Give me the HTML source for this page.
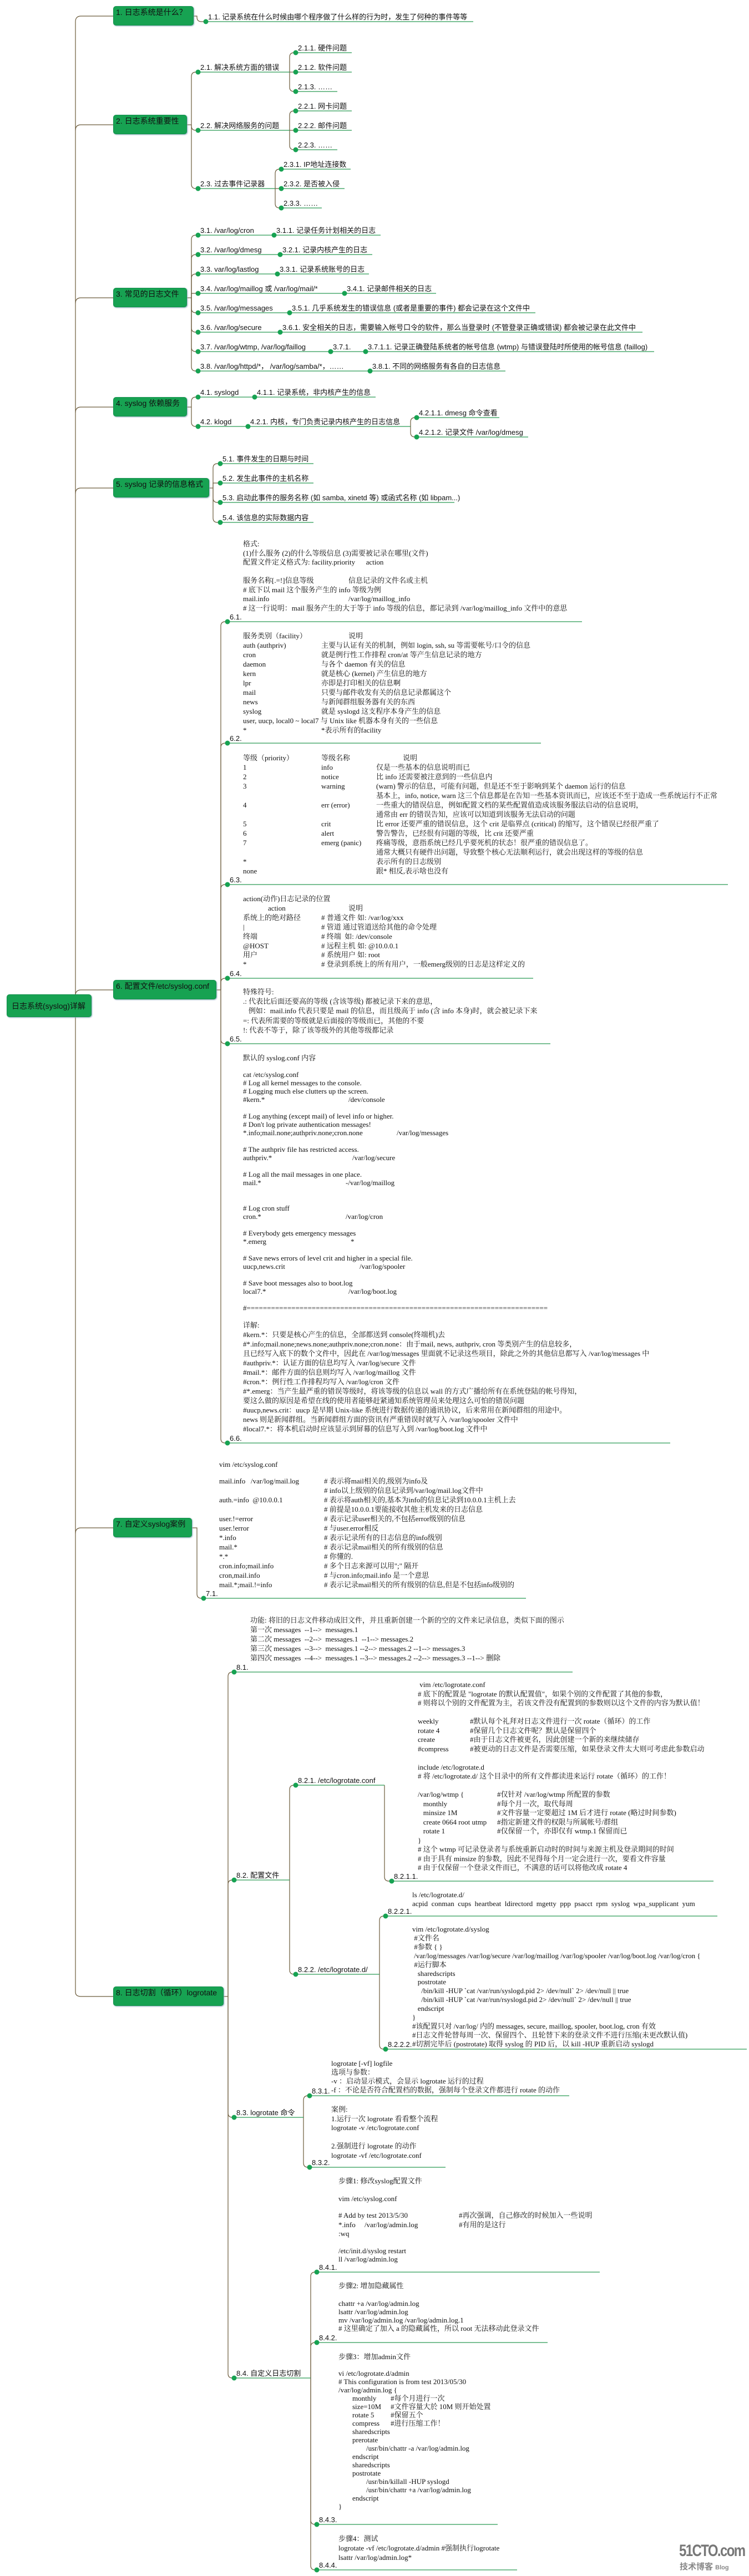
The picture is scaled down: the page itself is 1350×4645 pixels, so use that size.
<!DOCTYPE html>
<html><head><meta charset="utf-8">
<style>
body{margin:0;width:1350px;height:4645px;position:relative;background:#fff;overflow:hidden}
.n{position:absolute;background:#17a252;border-radius:5px;border:1px solid #13904a;height:35px;line-height:34px;font:14px "Liberation Sans","Noto Sans CJK SC",sans-serif;padding-left:4px;box-sizing:border-box;color:#111;box-shadow:1px 1px 2px #8ab}
.l{position:absolute;font:13px "Liberation Sans","Noto Sans CJK SC",sans-serif;white-space:pre;line-height:15px;color:#111}
.b{position:absolute;font:13px "Liberation Serif","Noto Serif CJK SC",serif;white-space:pre;color:#111}
.b i{display:inline-block;font-style:normal}
svg{position:absolute;left:0;top:0}
</style></head><body>
<svg width="1350" height="4645">
<g fill="none" stroke="#6b5a3a" stroke-width="1.2">
<path d="M136,3592V39Q136,29 146,29H205"/>
<path d="M136,3592Q136,3600 146,3600H205"/>
<path d="M136,235Q136,225 146,225H205"/>
<path d="M136,547Q136,537 146,537H205"/>
<path d="M136,744Q136,734 146,734H205"/>
<path d="M136,890Q136,880 146,880H205"/>
<path d="M136,1795Q136,1785 146,1785H205"/>
<path d="M136,2765Q136,2755 146,2755H205"/>
<path d="M349,29H355V31Q355,39 363,39H371"/>
<path d="M337,225H345"/>
<path d="M345,225V138Q345,130 353,130H357"/>
<path d="M345,225V227Q345,235 353,235H357"/>
<path d="M345,225V332Q345,340 353,340H357"/>
<path d="M522,130V103Q522,95 530,95H533"/><path d="M522,130H533"/><path d="M522,130V157Q522,165 530,165H533"/>
<path d="M522,235V208Q522,200 530,200H533"/><path d="M522,235H533"/><path d="M522,235V262Q522,270 530,270H533"/>
<path d="M496,340V313Q496,305 504,305H507"/><path d="M496,340H507"/><path d="M496,340V367Q496,375 504,375H507"/>
<path d="M337,537H345"/>
<path d="M345,537V432Q345,424 353,424H357"/>
<path d="M345,537V467Q345,459 353,459H357"/>
<path d="M345,537V502Q345,494 353,494H357"/>
<path d="M345,537V529H357"/>
<path d="M345,537V556Q345,564 353,564H357"/>
<path d="M345,537V591Q345,599 353,599H357"/>
<path d="M345,537V626Q345,634 353,634H357"/>
<path d="M345,537V661Q345,669 353,669H357"/>
<path d="M337,734H345"/>
<path d="M345,734V724Q345,716 353,716H357"/>
<path d="M345,734V761Q345,769 353,769H357"/>
<path d="M740,769V761Q740,753 748,753H751"/>
<path d="M740,769V780Q740,788 748,788H751"/>
<path d="M377,880H384"/>
<path d="M384,880V844Q384,836 392,836H397"/>
<path d="M384,880V871H397"/>
<path d="M384,880V898Q384,906 392,906H397"/>
<path d="M384,880V934Q384,942 392,942H397"/>
<path d="M390,1785H398"/>
<path d="M398,1785V1129Q398,1121 406,1121H410"/>
<path d="M398,1785V1348Q398,1340 406,1340H410"/>
<path d="M398,1785V1603Q398,1595 406,1595H410"/>
<path d="M398,1785V1772Q398,1764 406,1764H410"/>
<path d="M398,1785V1874Q398,1882 406,1882H410"/>
<path d="M398,1785V2594Q398,2602 406,2602H410"/>
<path d="M346,2755H355V2874Q355,2882 363,2882H367"/>
<path d="M403,3600H411"/>
<path d="M411,3600V3023Q411,3015 419,3015H422"/>
<path d="M411,3600V3398Q411,3390 419,3390H422"/>
<path d="M411,3600V3810Q411,3818 419,3818H422"/>
<path d="M411,3600V4280Q411,4288 419,4288H422"/>
<path d="M522,3390V3227Q522,3219 530,3219H533"/>
<path d="M522,3390V3552Q522,3560 530,3560H533"/>
<path d="M693,3219V3384Q693,3392 701,3392H706"/>
<path d="M684,3560V3463Q684,3455 692,3455H695"/>
<path d="M684,3560V3687Q684,3695 692,3695H695"/>
<path d="M547,3818V3787Q547,3779 555,3779H558"/>
<path d="M547,3818V3900Q547,3908 555,3908H558"/>
<path d="M560,4288V4105Q560,4097 568,4097H571"/>
<path d="M560,4288V4232Q560,4224 568,4224H571"/>
<path d="M560,4288V4544Q560,4552 568,4552H571"/>
<path d="M560,4288V4626Q560,4634 568,4634H571"/>
</g>
<g stroke="#2a9a55" stroke-width="1.2">
<path d="M371,39H853M357,130H522M357,235H522M357,340H496M533,95H634M533,130H634M533,165H608M533,200H634M533,235H634M533,270H608M507,305H632M507,340H621M507,375H580"/>
<path d="M357,424H686M357,459H671M357,494H665M357,529H786M357,564H965M357,599H1158M357,634H1179M357,669H911"/>
<path d="M357,716H677M357,769H740M751,753H900M751,788H952M397,836H565M397,871H565M397,906H819M397,942H565"/>
<path d="M410,1121H1049M410,1340H975M410,1595H1312M410,1764H961M410,1882H992M410,2602H1208M367,2882H948"/>
<path d="M422,3015H1032M422,3390H522M533,3219H693M706,3392H1286M533,3560H684M695,3455H1293M695,3695H1346M422,3818H547M558,3779H1026M558,3908H803M422,4288H560M571,4097H1081M571,4224H987M571,4552H897M571,4634H932"/>
</g>
<g fill="#17a252">
<circle cx="371" cy="39" r="4.5"/><circle cx="357" cy="130" r="4.5"/><circle cx="357" cy="235" r="4.5"/><circle cx="357" cy="340" r="4.5"/>
<circle cx="533" cy="95" r="4.5"/><circle cx="533" cy="130" r="4.5"/><circle cx="533" cy="165" r="4.5"/><circle cx="533" cy="200" r="4.5"/><circle cx="533" cy="235" r="4.5"/><circle cx="533" cy="270" r="4.5"/>
<circle cx="507" cy="305" r="4.5"/><circle cx="507" cy="340" r="4.5"/><circle cx="507" cy="375" r="4.5"/>
<circle cx="357" cy="424" r="4.5"/><circle cx="494" cy="424" r="4.5"/><circle cx="357" cy="459" r="4.5"/><circle cx="505" cy="459" r="4.5"/><circle cx="357" cy="494" r="4.5"/><circle cx="500" cy="494" r="4.5"/><circle cx="357" cy="529" r="4.5"/><circle cx="621" cy="529" r="4.5"/><circle cx="357" cy="564" r="4.5"/><circle cx="522" cy="564" r="4.5"/><circle cx="357" cy="599" r="4.5"/><circle cx="505" cy="599" r="4.5"/><circle cx="357" cy="634" r="4.5"/><circle cx="596" cy="634" r="4.5"/><circle cx="659" cy="634" r="4.5"/><circle cx="357" cy="669" r="4.5"/><circle cx="667" cy="669" r="4.5"/>
<circle cx="357" cy="716" r="4.5"/><circle cx="459" cy="716" r="4.5"/><circle cx="357" cy="769" r="4.5"/><circle cx="447" cy="769" r="4.5"/><circle cx="751" cy="753" r="4.5"/><circle cx="751" cy="788" r="4.5"/>
<circle cx="397" cy="836" r="4.5"/><circle cx="397" cy="871" r="4.5"/><circle cx="397" cy="906" r="4.5"/><circle cx="397" cy="942" r="4.5"/>
<circle cx="410" cy="1121" r="4.5"/><circle cx="410" cy="1340" r="4.5"/><circle cx="410" cy="1595" r="4.5"/><circle cx="410" cy="1764" r="4.5"/><circle cx="410" cy="1882" r="4.5"/><circle cx="410" cy="2602" r="4.5"/>
<circle cx="367" cy="2882" r="4.5"/>
<circle cx="422" cy="3015" r="4.5"/><circle cx="422" cy="3390" r="4.5"/><circle cx="533" cy="3219" r="4.5"/><circle cx="706" cy="3392" r="4.5"/><circle cx="533" cy="3560" r="4.5"/><circle cx="695" cy="3455" r="4.5"/><circle cx="695" cy="3695" r="4.5"/><circle cx="422" cy="3818" r="4.5"/><circle cx="558" cy="3779" r="4.5"/><circle cx="558" cy="3908" r="4.5"/><circle cx="422" cy="4288" r="4.5"/><circle cx="571" cy="4097" r="4.5"/><circle cx="571" cy="4224" r="4.5"/><circle cx="571" cy="4552" r="4.5"/><circle cx="571" cy="4634" r="4.5"/>
</g>
</svg>

<div class="n" style="left:12px;top:1793px;width:153px;height:41px;line-height:40px;padding-left:8px">日志系统(syslog)详解</div>
<div class="n" style="left:204px;top:11px;width:145px">1.  日志系统是什么？</div>
<div class="n" style="left:204px;top:207px;width:133px">2.  日志系统重要性</div>
<div class="n" style="left:204px;top:519px;width:133px">3.  常见的日志文件</div>
<div class="n" style="left:204px;top:716px;width:133px">4.  syslog 依赖服务</div>
<div class="n" style="left:204px;top:862px;width:173px">5.  syslog 记录的信息格式</div>
<div class="n" style="left:204px;top:1767px;width:186px">6.  配置文件/etc/syslog.conf</div>
<div class="n" style="left:204px;top:2737px;width:142px">7.  自定义syslog案例</div>
<div class="n" style="left:204px;top:3582px;width:199px">8.  日志切割（循环）logrotate</div>

<div class="l" style="left:375px;top:23px">1.1. 记录系统在什么时候由哪个程序做了什么样的行为时，发生了何种的事件等等</div>
<div class="l" style="left:361px;top:114px">2.1. 解决系统方面的错误</div>
<div class="l" style="left:361px;top:219px">2.2. 解决网络服务的问题</div>
<div class="l" style="left:361px;top:324px">2.3. 过去事件记录器</div>
<div class="l" style="left:537px;top:79px">2.1.1. 硬件问题</div>
<div class="l" style="left:537px;top:114px">2.1.2. 软件问题</div>
<div class="l" style="left:537px;top:149px">2.1.3. ……</div>
<div class="l" style="left:537px;top:184px">2.2.1. 网卡问题</div>
<div class="l" style="left:537px;top:219px">2.2.2. 邮件问题</div>
<div class="l" style="left:537px;top:254px">2.2.3. ……</div>
<div class="l" style="left:511px;top:289px">2.3.1. IP地址连接数</div>
<div class="l" style="left:511px;top:324px">2.3.2. 是否被入侵</div>
<div class="l" style="left:511px;top:359px">2.3.3. ……</div>

<div class="l" style="left:361px;top:408px">3.1. /var/log/cron</div>
<div class="l" style="left:498px;top:408px">3.1.1. 记录任务计划相关的日志</div>
<div class="l" style="left:361px;top:443px">3.2. /var/log/dmesg</div>
<div class="l" style="left:509px;top:443px">3.2.1. 记录内核产生的日志</div>
<div class="l" style="left:361px;top:478px">3.3. var/log/lastlog</div>
<div class="l" style="left:504px;top:478px">3.3.1. 记录系统账号的日志</div>
<div class="l" style="left:361px;top:513px">3.4. /var/log/maillog 或 /var/log/mail/*</div>
<div class="l" style="left:625px;top:513px">3.4.1. 记录邮件相关的日志</div>
<div class="l" style="left:361px;top:548px">3.5. /var/log/messages</div>
<div class="l" style="left:526px;top:548px">3.5.1. 几乎系统发生的错误信息 (或者是重要的事件) 都会记录在这个文件中</div>
<div class="l" style="left:361px;top:583px">3.6. /var/log/secure</div>
<div class="l" style="left:509px;top:583px">3.6.1. 安全相关的日志，需要输入帐号口令的软件，那么当登录时 (不管登录正确或错误) 都会被记录在此文件中</div>
<div class="l" style="left:361px;top:618px">3.7. /var/log/wtmp, /var/log/faillog</div>
<div class="l" style="left:600px;top:618px">3.7.1.</div>
<div class="l" style="left:663px;top:618px">3.7.1.1. 记录正确登陆系统者的帐号信息 (wtmp) 与错误登陆时所使用的帐号信息 (faillog)</div>
<div class="l" style="left:361px;top:653px">3.8. /var/log/httpd/*， /var/log/samba/*，……</div>
<div class="l" style="left:671px;top:653px">3.8.1. 不同的网络服务有各自的日志信息</div>

<div class="l" style="left:361px;top:700px">4.1. syslogd</div>
<div class="l" style="left:463px;top:700px">4.1.1. 记录系统，非内核产生的信息</div>
<div class="l" style="left:361px;top:753px">4.2. klogd</div>
<div class="l" style="left:451px;top:753px">4.2.1. 内核，专门负责记录内核产生的日志信息</div>
<div class="l" style="left:755px;top:737px">4.2.1.1. dmesg 命令查看</div>
<div class="l" style="left:755px;top:772px">4.2.1.2. 记录文件 /var/log/dmesg</div>

<div class="l" style="left:401px;top:820px">5.1. 事件发生的日期与时间</div>
<div class="l" style="left:401px;top:855px">5.2. 发生此事件的主机名称</div>
<div class="l" style="left:401px;top:890px">5.3. 启动此事件的服务名称 (如 samba, xinetd 等) 或函式名称 (如 libpam...)</div>
<div class="l" style="left:401px;top:926px">5.4. 该信息的实际数据内容</div>

<div class="l" style="left:414px;top:1105px">6.1.</div>
<div class="l" style="left:414px;top:1324px">6.2.</div>
<div class="l" style="left:414px;top:1579px">6.3.</div>
<div class="l" style="left:414px;top:1748px">6.4.</div>
<div class="l" style="left:414px;top:1866px">6.5.</div>
<div class="l" style="left:414px;top:2586px">6.6.</div>
<div class="l" style="left:371px;top:2866px">7.1.</div>

<div class="b" style="left:438px;top:973px;line-height:16.5px">格式:
(1)什么服务 (2)的什么等级信息 (3)需要被记录在哪里(文件)
配置文件定义格式为: facility.priority      action

<i style="width:190px">服务名称[.=!]信息等级</i>信息记录的文件名或主机
# 底下以 mail 这个服务产生的 info 等级为例
<i style="width:190px">mail.info</i>/var/log/maillog_info
# 这一行说明：mail 服务产生的大于等于 info 等级的信息，都记录到 /var/log/maillog_info 文件中的意思</div>

<div class="b" style="left:438px;top:1138px;line-height:17px"><i style="width:190px">服务类别（facility）</i>说明
<i style="width:141px">auth (authpriv)</i>主要与认证有关的机制，例如 login, ssh, su 等需要帐号/口令的信息
<i style="width:141px">cron</i>就是例行性工作排程 cron/at 等产生信息记录的地方
<i style="width:141px">daemon</i>与各个 daemon 有关的信息
<i style="width:141px">kern</i>就是核心 (kernel) 产生信息的地方
<i style="width:141px">lpr</i>亦即是打印相关的信息啊
<i style="width:141px">mail</i>只要与邮件收发有关的信息记录都属这个
<i style="width:141px">news</i>与新闻群组服务器有关的东西
<i style="width:141px">syslog</i>就是 syslogd 这支程序本身产生的信息
user, uucp, local0 ~ local7 与 Unix like 机器本身有关的一些信息
<i style="width:141px">*</i>*表示所有的facility</div>

<div class="b" style="left:438px;top:1358px;line-height:17px"><i style="width:141px">等级（priority）</i><i style="width:147px">等级名称</i>说明
<i style="width:141px">1</i><i style="width:99px">info</i>仅是一些基本的信息说明而已
<i style="width:141px">2</i><i style="width:99px">notice</i>比 info 还需要被注意到的一些信息内
<i style="width:141px">3</i><i style="width:99px">warning</i>(warn) 警示的信息，可能有问题，但是还不至于影响到某个 daemon 运行的信息
<i style="width:240px"></i>基本上，info, notice, warn 这三个信息都是在告知一些基本资讯而已，应该还不至于造成一些系统运行不正常
<i style="width:141px">4</i><i style="width:99px">err (error)</i>一些重大的错误信息，例如配置文档的某些配置值造成该服务服法启动的信息说明，
<i style="width:240px"></i>通常由 err 的错误告知，应该可以知道到该服务无法启动的问题
<i style="width:141px">5</i><i style="width:99px">crit</i>比 error 还要严重的错误信息，这个 crit 是临界点 (critical) 的缩写，这个错误已经很严重了
<i style="width:141px">6</i><i style="width:99px">alert</i>警告警告，已经很有问题的等级，比 crit 还要严重
<i style="width:141px">7</i><i style="width:99px">emerg (panic)</i>疼痛等级，意指系统已经几乎要死机的状态！很严重的错误信息了。
<i style="width:240px"></i>通常大概只有硬件出问题，导致整个核心无法顺利运行，就会出现这样的等级的信息
<i style="width:240px">*</i>表示所有的日志级别
<i style="width:240px">none</i>跟* 相反,表示啥也没有</div>

<div class="b" style="left:438px;top:1613px;line-height:16.9px">action(动作)日志记录的位置
<i style="width:45px"></i><i style="width:145px">action</i>说明
<i style="width:141px">系统上的绝对路径</i># 普通文件 如: /var/log/xxx
<i style="width:141px">|</i># 管道 通过管道送给其他的命令处理
<i style="width:141px">终端</i># 终端  如: /dev/console
<i style="width:141px">@HOST</i># 远程主机 如: @10.0.0.1
<i style="width:141px">用户</i># 系统用户 如: root
<i style="width:141px">*</i># 登录到系统上的所有用户，一般emerg级别的日志是这样定义的</div>

<div class="b" style="left:438px;top:1780px;line-height:17.2px">特殊符号:
.: 代表比后面还要高的等级 (含该等级) 都被记录下来的意思，
   例如：mail.info 代表只要是 mail 的信息，而且级高于 info (含 info 本身)时，就会被记录下来
=: 代表所需要的等级就是后面接的等级而已，其他的不要
!: 代表不等于，除了该等级外的其他等级都记录</div>

<div class="b" style="left:438px;top:1900px;line-height:15.03px">默认的 syslog.conf 内容

cat /etc/syslog.conf
# Log all kernel messages to the console.
# Logging much else clutters up the screen.
<i style="width:190px">#kern.*</i>/dev/console

# Log anything (except mail) of level info or higher.
# Don't log private authentication messages!
<i style="width:277px">*.info;mail.none;authpriv.none;cron.none</i>/var/log/messages

# The authpriv file has restricted access.
<i style="width:197px">authpriv.*</i>/var/log/secure

# Log all the mail messages in one place.
<i style="width:185px">mail.*</i>-/var/log/maillog


# Log cron stuff
<i style="width:185px">cron.*</i>/var/log/cron

# Everybody gets emergency messages
<i style="width:194px">*.emerg</i>*

# Save news errors of level crit and higher in a special file.
<i style="width:210px">uucp,news.crit</i>/var/log/spooler

# Save boot messages also to boot.log
<i style="width:190px">local7.*</i>/var/log/boot.log

#==========================================================================</div>

<div class="b" style="left:438px;top:2381px;line-height:17px">详解:
#kern.*：只要是核心产生的信息，全部都送到 console(终端机)去
#*.info;mail.none;news.none;authpriv.none;cron.none：由于mail, news, authpriv, cron 等类别产生的信息较多，
且已经写入底下的数个文件中，因此在 /var/log/messages 里面就不记录这些项目，除此之外的其他信息都写入 /var/log/messages 中
#authpriv.*：认证方面的信息均写入 /var/log/secure 文件
#mail.*：邮件方面的信息则均写入 /var/log/maillog 文件
#cron.*：例行性工作排程均写入 /var/log/cron 文件
#*.emerg：当产生最严重的错误等级时，将该等级的信息以 wall 的方式广播给所有在系统登陆的帐号得知，
要这么做的原因是希望在线的使用者能够赶紧通知系统管理员来处理这么可怕的错误问题
#uucp,news.crit：uucp 是早期 Unix-like 系统进行数据传递的通讯协议，后来常用在新闻群组的用途中。
news 则是新闻群组。当新闻群组方面的资讯有严重错误时就写入 /var/log/spooler 文件中
#local7.*：将本机启动时应该显示到屏幕的信息写入到 /var/log/boot.log 文件中</div>

<div class="b" style="left:395px;top:2632px;line-height:17px">vim /etc/syslog.conf</div>
<div class="b" style="left:395px;top:2662px;line-height:17px"><i style="width:189px">mail.info   /var/log/mail.log</i># 表示将mail相关的,级别为info及
<i style="width:189px"></i># info以上级别的信息记录到/var/log/mail.log文件中
<i style="width:189px">auth.=info  @10.0.0.1</i># 表示将auth相关的,基本为info的信息记录到10.0.0.1主机上去
<i style="width:189px"></i># 前提是10.0.0.1要能接收其他主机发来的日志信息
<i style="width:189px">user.!=error</i># 表示记录user相关的,不包括error级别的信息
<i style="width:189px">user.!error</i># 与user.error相反
<i style="width:189px">*.info</i># 表示记录所有的日志信息的info级别
<i style="width:189px">mail.*</i># 表示记录mail相关的所有级别的信息
<i style="width:189px">*.*</i># 你懂的.
<i style="width:189px">cron.info;mail.info</i># 多个日志来源可以用";" 隔开
<i style="width:189px">cron,mail.info</i># 与cron.info;mail.info 是一个意思
<i style="width:189px">mail.*;mail.!=info</i># 表示记录mail相关的所有级别的信息,但是不包括info级别的</div>

<div class="l" style="left:426px;top:2999px">8.1.</div>
<div class="b" style="left:451px;top:2913px;line-height:17px">功能: 将旧的日志文件移动成旧文件，并且重新创建一个新的空的文件来记录信息，类似下面的图示
第一次 messages  --1-->  messages.1
第二次 messages  --2-->  messages.1  --1--> messages.2
第三次 messages  --3-->  messages.1 --2--> messages.2 --1--> messages.3
第四次 messages  --4-->  messages.1 --3--> messages.2 --2--> messages.3 --1--> 删除</div>

<div class="l" style="left:426px;top:3374px">8.2. 配置文件</div>
<div class="l" style="left:537px;top:3203px">8.2.1. /etc/logrotate.conf</div>
<div class="l" style="left:537px;top:3544px">8.2.2. /etc/logrotate.d/</div>
<div class="l" style="left:710px;top:3376px">8.2.1.1.</div>
<div class="l" style="left:699px;top:3439px">8.2.2.1.</div>
<div class="l" style="left:699px;top:3679px">8.2.2.2.</div>

<div class="b" style="left:753px;top:3030px;line-height:16.5px"> vim /etc/logrotate.conf
# 底下的配置是 "logrotate 的默认配置值"，如果个别的文件配置了其他的参数，
# 则将以个别的文件配置为主，若该文件没有配置到的参数则以这个文件的内容为默认值！

<i style="width:94px">weekly</i>#默认每个礼拜对日志文件进行一次 rotate（循环）的工作
<i style="width:94px">rotate 4</i>#保留几个日志文件呢？默认是保留四个
<i style="width:94px">create</i>#由于日志文件被更名，因此创建一个新的来继续储存
<i style="width:94px">#compress</i>#被更动的日志文件是否需要压缩，如果登录文件太大则可考虑此参数启动

include /etc/logrotate.d
# 将 /etc/logrotate.d/ 这个目录中的所有文件都读进来运行 rotate（循环）的工作！

<i style="width:143px">/var/log/wtmp {</i>#仅针对 /var/log/wtmp 所配置的参数
<i style="width:143px">   monthly</i>#每个月一次，取代每周
<i style="width:143px">   minsize 1M</i>#文件容量一定要超过 1M 后才进行 rotate (略过时间参数)
<i style="width:143px">   create 0664 root utmp</i>#指定新建文件的权限与所属帐号/群组
<i style="width:143px">   rotate 1</i>#仅保留一个，亦即仅有 wtmp.1 保留而已
}
# 这个 wtmp 可记录登录者与系统重新启动时的时间与来源主机及登录期间的时间
# 由于具有 minsize 的参数，因此不见得每个月一定会进行一次，要看文件容量
# 由于仅保留一个登录文件而已，不满意的话可以将他改成 rotate 4</div>

<div class="b" style="left:743px;top:3409px;line-height:16px">ls /etc/logrotate.d/
acpid  conman  cups  heartbeat  ldirectord  mgetty  ppp  psacct  rpm  syslog  wpa_supplicant  yum</div>

<div class="b" style="left:743px;top:3471px;line-height:15.9px">vim /etc/logrotate.d/syslog
 #文件名
 #参数 { }
 /var/log/messages /var/log/secure /var/log/maillog /var/log/spooler /var/log/boot.log /var/log/cron {
 #运行脚本
   sharedscripts
   postrotate
     /bin/kill -HUP `cat /var/run/syslogd.pid 2&gt; /dev/null` 2&gt; /dev/null || true
     /bin/kill -HUP `cat /var/run/rsyslogd.pid 2&gt; /dev/null` 2&gt; /dev/null || true
   endscript
}
#该配置只对 /var/log/ 内的 messages, secure, maillog, spooler, boot.log, cron 有效
#日志文件轮替每周一次、保留四个、且轮替下来的登录文件不进行压缩(未更改默认值)
#切割完毕后 (postrotate) 取得 syslog 的 PID 后，以 kill -HUP 重新启动 syslogd</div>

<div class="l" style="left:426px;top:3802px">8.3. logrotate 命令</div>
<div class="l" style="left:562px;top:3763px">8.3.1.</div>
<div class="l" style="left:562px;top:3892px">8.3.2.</div>
<div class="b" style="left:597px;top:3713px;line-height:16px">logrotate [-vf] logfile
选项与参数：
-v ：启动显示模式，会显示 logrotate 运行的过程
-f ：不论是否符合配置档的数据，强制每个登录文件都进行 rotate 的动作</div>
<div class="b" style="left:597px;top:3796px;line-height:16.5px">案例:
1.运行一次 logrotate 看看整个流程
logrotate -v /etc/logrotate.conf

2.强制进行 logrotate 的动作
logrotate -vf /etc/logrotate.conf</div>

<div class="l" style="left:426px;top:4272px">8.4. 自定义日志切割</div>
<div class="l" style="left:575px;top:4081px">8.4.1.</div>
<div class="l" style="left:575px;top:4208px">8.4.2.</div>
<div class="l" style="left:575px;top:4536px">8.4.3.</div>
<div class="l" style="left:575px;top:4618px">8.4.4.</div>

<div class="b" style="left:610px;top:3925px;line-height:16px">步骤1: 修改syslog配置文件</div>
<div class="b" style="left:610px;top:3957px;line-height:16px">vim /etc/syslog.conf</div>
<div class="b" style="left:610px;top:3987px;line-height:16.5px"><i style="width:217px"># Add by test 2013/5/30</i>#再次强调，自己修改的时候加入一些说明
<i style="width:217px">*.info     /var/log/admin.log</i>#有用的是这行
:wq</div>
<div class="b" style="left:610px;top:4051px;line-height:15px">/etc/init.d/syslog restart
ll /var/log/admin.log</div>

<div class="b" style="left:610px;top:4114px;line-height:16px">步骤2: 增加隐藏属性</div>
<div class="b" style="left:610px;top:4146px;line-height:15px">chattr +a /var/log/admin.log
lsattr /var/log/admin.log
mv /var/log/admin.log /var/log/admin.log.1
# 这里确定了加入 a 的隐藏属性，所以 root 无法移动此登录文件</div>

<div class="b" style="left:610px;top:4242px;line-height:16px">步骤3：增加admin文件</div>
<div class="b" style="left:610px;top:4272px;line-height:15px">vi /etc/logrotate.d/admin
# This configuration is from test 2013/05/30
/var/log/admin.log {
<i style="width:25px"></i><i style="width:69px">monthly</i>#每个月进行一次
<i style="width:25px"></i><i style="width:69px">size=10M</i>#文件容量大於 10M 则开始处置
<i style="width:25px"></i><i style="width:69px">rotate 5</i>#保留五个
<i style="width:25px"></i><i style="width:69px">compress</i>#进行压缩工作！
<i style="width:25px"></i>sharedscripts
<i style="width:25px"></i>prerotate
<i style="width:50px"></i>/usr/bin/chattr -a /var/log/admin.log
<i style="width:25px"></i>endscript
<i style="width:25px"></i>sharedscripts
<i style="width:25px"></i>postrotate
<i style="width:50px"></i>/usr/bin/killall -HUP syslogd
<i style="width:50px"></i>/usr/bin/chattr +a /var/log/admin.log
<i style="width:25px"></i>endscript
}</div>

<div class="b" style="left:610px;top:4569px;line-height:17px">步骤4：测试
logrotate -vf /etc/logrotate.d/admin #强制执行logrotate
lsattr /var/log/admin.log*</div>

<div style="position:absolute;left:1224px;top:4583px;font:bold 30px 'Liberation Sans',sans-serif;color:#777;letter-spacing:-2px;transform:scaleX(0.8);transform-origin:left">51CTO.com</div>
<div style="position:absolute;left:1225px;top:4617px;font:bold 15px 'Liberation Sans','Noto Sans CJK SC',sans-serif;color:#888">技术博客 <span style="font-size:11px">Blog</span></div>
</body></html>
